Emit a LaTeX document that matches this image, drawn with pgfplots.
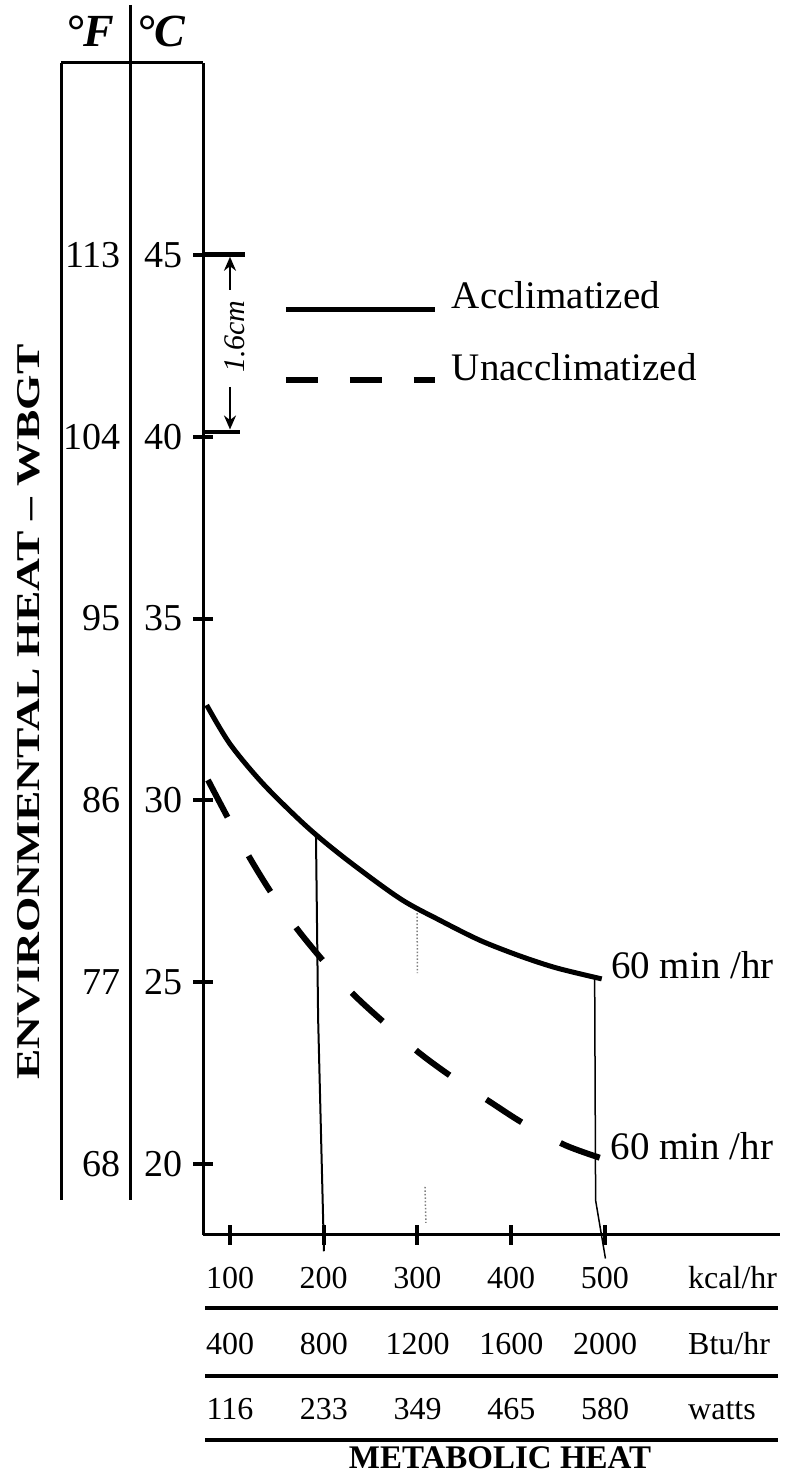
\documentclass[border=0pt]{standalone}
\usepackage{fontspec}
\setmainfont{Liberation Serif}
\usepackage{pgfplots}
\usepackage{pgfplotstable}
\pgfplotsset{compat=1.18}
\usetikzlibrary{arrows.meta}

\newcommand\fY{\fontsize{38bp}{44bp}\selectfont}
\newcommand\fL{\fontsize{39bp}{46bp}\selectfont}
\newcommand\fT{\fontsize{32bp}{38bp}\selectfont}
\newcommand\fM{\fontsize{33bp}{40bp}\selectfont}

\pgfplotstableread{
kcal degC
75.1 32.62
100 31.55
135.5 30.45
181.8 29.28
224.5 28.37
281.3 27.30
324 26.70
366.7 26.15
409.3 25.72
448.5 25.39
496.5 25.09
}\acclim

\pgfplotstableread{
kcal degC
76.5 30.56
97.1 29.55
120.6 28.44
144.5 27.44
171.1 26.48
200.3 25.56
232.3 24.65
265.3 23.87
301.6 23.06
336.5 22.40
377.3 21.71
412.9 21.12
457.3 20.52
494.7 20.17
}\unacclim

\begin{document}
\begin{tikzpicture}
\path[use as bounding box] (0,0) rectangle (785bp,1474bp);
\begin{axis}[
  at={(203bp,239bp)}, anchor=south west,
  scale only axis, width=577bp, height=1172bp,
  xmin=71.2, xmax=686.7, ymin=18.047, ymax=50.28,
  axis lines=left,
  axis line style={-, line width=3bp},
  tick align=center,
  major tick length=20bp,
  tick style={black, line width=4bp},
  xtick={100,200,300,400,500},
  ytick={20,25,30,35,40,45},
  /pgf/number format/assume math mode=true,
  xticklabel style={font=\fT, anchor=base, inner sep=0pt, yshift=-44bp},
  yticklabel style={font=\fY, anchor=east, inner sep=0pt, xshift=-10bp},
  clip=false,
  legend cell align=left,
  legend style={at={(axis cs:156.5,44.26)}, anchor=north west, draw=none, fill=none,
     inner sep=0pt, outer sep=0pt, row sep=41.5bp, column sep=14bp, font=\fL,
     nodes={inner sep=0pt}},
  legend image code/.code={\draw[#1] (0bp,-13bp) -- (149bp,-13bp);},
]
\addlegendimage{line width=5bp}
\addlegendentry{Acclimatized}
\addlegendimage{line width=6bp, dash pattern=on 32bp off 32bp}
\addlegendentry{Unacclimatized}

\addplot[forget plot, line width=5bp, smooth] table[x=kcal, y=degC] {\acclim};
\addplot[forget plot, line width=6bp, dash pattern=on 42bp off 44bp, smooth] table[x=kcal, y=degC] {\unacclim};

% curve labels
\node[anchor=base west, font=\fL, inner sep=0pt] at (axis cs:506.5,25.09) {60 min /hr};
\node[anchor=base west, font=\fL, inner sep=0pt] at (axis cs:506,20.12) {60 min /hr};

% handwritten marks
\draw[line width=2bp] (axis cs:191.7,29.05) -- (axis cs:194,24) -- (axis cs:200.2,17.6);
\draw[line width=1.5bp, dotted, gray] (axis cs:299.5,26.9) -- (axis cs:300,25.25);
\draw[line width=1.5bp, dotted, gray] (axis cs:308,19.37) -- (axis cs:309,18.38);
\draw[line width=1.5bp] (axis cs:489,25.09) -- (axis cs:490,19.0) -- (axis cs:500.5,17.4);
\draw[line width=5bp] (axis cs:71.2,45) -- (axis cs:116,45);
\draw[line width=4bp] (axis cs:71.2,40.13) -- (axis cs:110.7,40.13);
\draw[line width=2.5bp, -{Stealth[length=14bp,width=12bp]}] (axis cs:100,44.04) -- (axis cs:100,44.95);
\draw[line width=2.5bp, -{Stealth[length=14bp,width=12bp]}] (axis cs:100,41.37) -- (axis cs:100,40.2);
\node[rotate=90, font=\fontsize{30bp}{34bp}\selectfont\itshape, inner sep=0pt] at (axis cs:105,42.75) {1.6cm};
\end{axis}

\begin{scope}[x=1bp, y=-1bp, yshift=1474bp]
% header box
\draw[line width=3bp] (61,63) -- (203,63);
\draw[line width=3bp] (61,63) -- (61,1200);
\draw[line width=3bp] (130,5) -- (130,1200);
\node[anchor=base, inner sep=0pt, font=\fontsize{46bp}{52bp}\selectfont\bfseries\itshape] at (90,47) {°F};
\node[anchor=base, inner sep=0pt, font=\fontsize{46bp}{52bp}\selectfont\bfseries\itshape] at (161,47) {°C};
% Fahrenheit labels
\foreach \yy/\ff in {255/113, 436.8/104, 618.6/95, 800.4/86, 982.2/77, 1164/68}
  \node[anchor=east, inner sep=0pt, font=\fY] at (121,\yy) {\ff};
% y title
\node[rotate=90, inner sep=0pt] at (29,712) {\resizebox{735bp}{22bp}{\bfseries ENVIRONMENTAL HEAT – WBGT}};
% metabolic table
\draw[line width=4bp] (205,1308) -- (778,1308);
\draw[line width=4bp] (205,1376) -- (778,1376);
\draw[line width=4bp] (205,1440) -- (778,1440);
\foreach \xx/\bb/\ww in {230/400/116, 323.75/800/233, 417.5/1200/349, 511.25/1600/465, 605/2000/580} {
  \node[anchor=base, inner sep=0pt, font=\fT] at (\xx,1355) {\bb};
  \node[anchor=base, inner sep=0pt, font=\fT] at (\xx,1420) {\ww};
}
\node[anchor=base west, inner sep=0pt, font=\fT] at (688,1289) {kcal/hr};
\node[anchor=base west, inner sep=0pt, font=\fT] at (688,1355) {Btu/hr};
\node[anchor=base west, inner sep=0pt, font=\fT] at (688,1420) {watts};
\node[anchor=base, inner sep=0pt, font=\fM\bfseries] at (500,1469) {METABOLIC HEAT};
\end{scope}
\end{tikzpicture}
\end{document}
